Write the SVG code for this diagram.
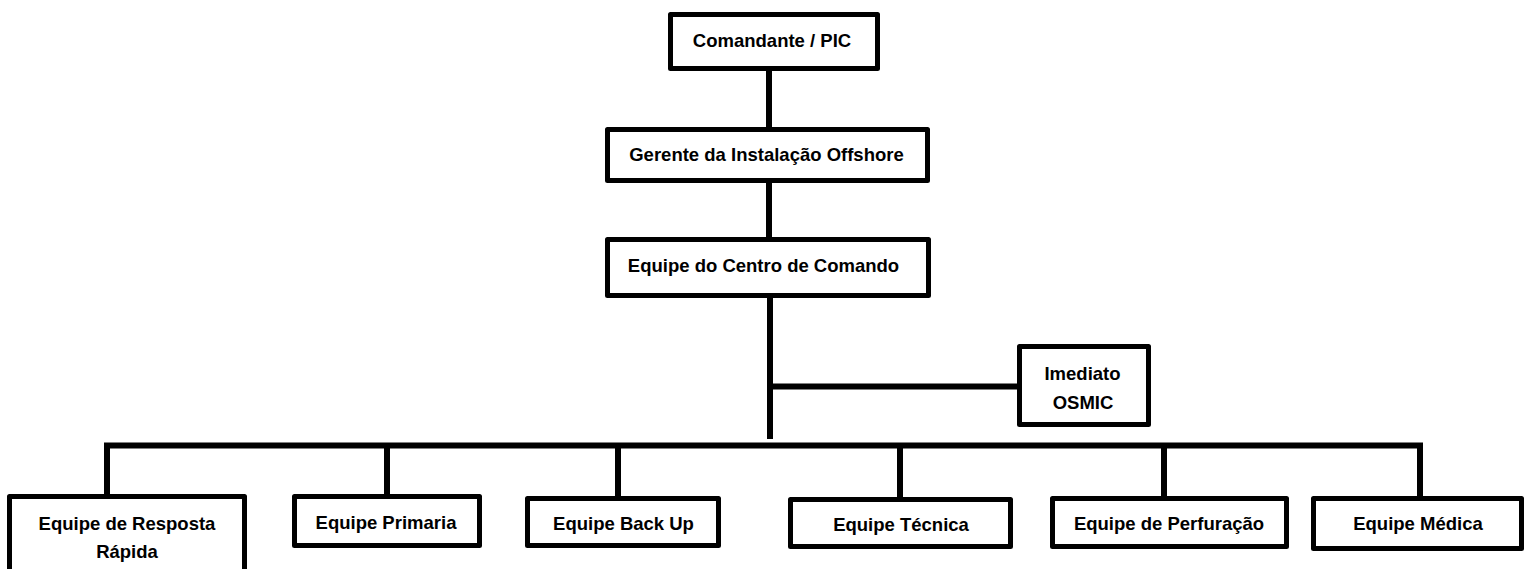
<svg xmlns="http://www.w3.org/2000/svg" width="1525" height="569" viewBox="0 0 1525 569">
<style>
  .box { fill: #ffffff; stroke: #000000; stroke-width: 5; stroke-linejoin: round; }
  .lbl { font-family: "Liberation Sans", Arial, sans-serif; font-weight: bold; font-size: 18.5px; fill: #000000; text-anchor: middle; }
  .conn { fill: none; stroke: #000000; stroke-width: 6; stroke-linejoin: miter; stroke-linecap: butt; }
</style>
<rect width="1525" height="569" fill="#ffffff"/>
<g id="connectors">
  <line class="conn" x1="769" y1="70" x2="769" y2="128"/>
  <line class="conn" x1="769" y1="182" x2="769" y2="238"/>
  <line class="conn" x1="770" y1="296" x2="770" y2="439"/>
  <line class="conn" x1="770" y1="386.5" x2="1018" y2="386.5"/>
  <path class="conn" d="M107,495 V445.5 H1420 V501"/>
  <line class="conn" x1="387" y1="445.5" x2="387" y2="495"/>
  <line class="conn" x1="618" y1="445.5" x2="618" y2="497"/>
  <line class="conn" x1="900" y1="445.5" x2="900" y2="498"/>
  <line class="conn" x1="1164" y1="445.5" x2="1164" y2="497"/>
</g>
<g id="node-comandante">
  <rect class="box" x="670.5" y="14.5" width="207" height="54"/>
  <text class="lbl" x="772" y="47">Comandante / PIC</text>
</g>
<g id="node-gerente">
  <rect class="box" x="607.5" y="129.5" width="320" height="51"/>
  <text class="lbl" x="766.5" y="161">Gerente da Instalação Offshore</text>
</g>
<g id="node-centro">
  <rect class="box" x="607.5" y="239.5" width="321" height="56"/>
  <text class="lbl" x="763.5" y="272">Equipe do Centro de Comando</text>
</g>
<g id="node-imediato">
  <rect class="box" x="1019.5" y="346.5" width="129" height="78"/>
  <text class="lbl" x="1082.5" y="380">Imediato</text>
  <text class="lbl" x="1083" y="409">OSMIC</text>
</g>
<g id="node-resposta">
  <rect class="box" x="9.5" y="496.5" width="235" height="100"/>
  <text class="lbl" x="127" y="530">Equipe de Resposta</text>
  <text class="lbl" x="127" y="558">Rápida</text>
</g>
<g id="node-primaria">
  <rect class="box" x="294.5" y="496.5" width="185" height="49"/>
  <text class="lbl" x="386" y="529">Equipe Primaria</text>
</g>
<g id="node-backup">
  <rect class="box" x="527.5" y="498.5" width="191" height="47"/>
  <text class="lbl" x="623.5" y="530">Equipe Back Up</text>
</g>
<g id="node-tecnica">
  <rect class="box" x="790.5" y="499.5" width="220" height="47"/>
  <text class="lbl" x="901" y="531">Equipe Técnica</text>
</g>
<g id="node-perfuracao">
  <rect class="box" x="1052.5" y="498.5" width="234" height="48"/>
  <text class="lbl" x="1169" y="530">Equipe de  Perfuração</text>
</g>
<g id="node-medica">
  <rect class="box" x="1313.5" y="498.5" width="208" height="50"/>
  <text class="lbl" x="1418" y="530">Equipe Médica</text>
</g>
</svg>
